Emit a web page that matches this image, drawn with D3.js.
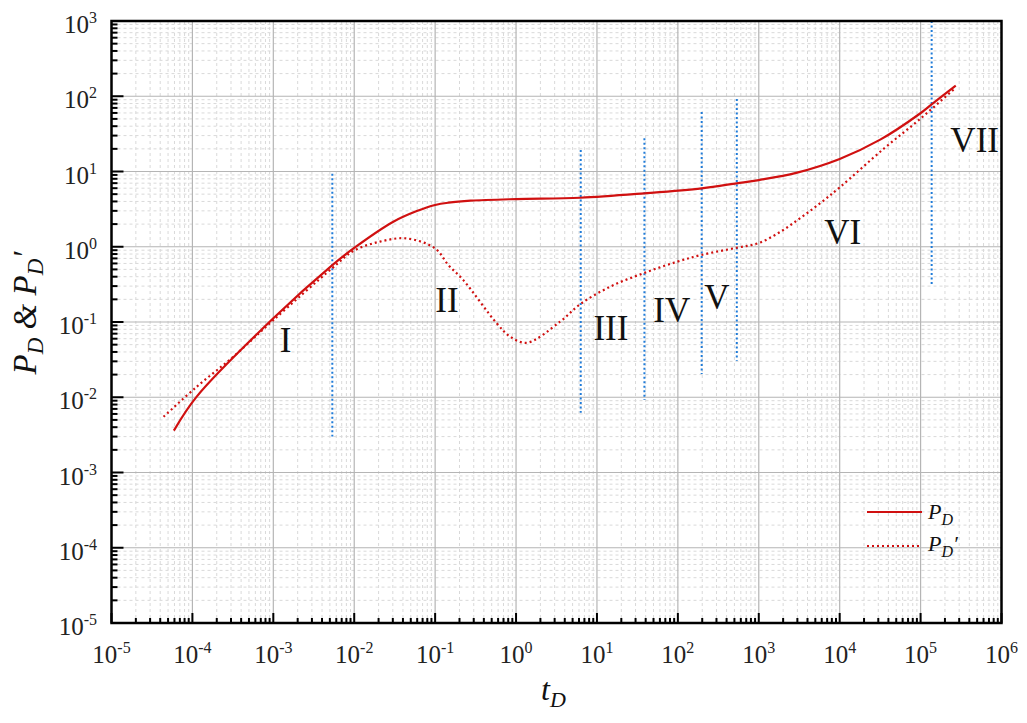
<!DOCTYPE html>
<html><head><meta charset="utf-8">
<script src="https://cdn.jsdelivr.net/npm/d3@7"></script>
<style>body{margin:0;background:#fff}svg{display:block}</style>
</head><body>
<svg id="c" width="1027" height="723"></svg>
<script>
// ---- data ----
const tPD = [5.9e-5, 1.13e-4, 1e-3, 5.36e-3, 9.8e-3, 0.0304, 0.0593, 0.1, 0.146, 0.275, 1, 6.2, 38.6, 197, 535, 1000, 2900, 1e4, 3.17e4, 9.86e4, 1.37e5, 2.72e5];
const PD  = [3.6e-3, 0.0102, 0.112, 0.57, 0.95, 2.15, 2.98, 3.59, 3.85, 4.09, 4.3, 4.48, 5.13, 5.98, 6.97, 7.7, 9.6, 14.7, 26.5, 59, 78, 138];
const tdPD = [4.4e-5, 1.13e-4, 3.2e-4, 1e-3, 5.36e-3, 9.8e-3, 0.0208, 0.0446, 0.1, 0.146, 0.223, 0.577, 0.843, 1.36, 3.5, 6.18, 14.5, 38.6, 96.8, 197, 535, 1000, 1830, 3270, 5780, 1.01e4, 3.47e4, 9.86e4, 2.67e5];
const dPD  = [5.5e-3, 0.0138, 0.0346, 0.106, 0.52, 0.88, 1.17, 1.29, 0.95, 0.57, 0.36, 0.096, 0.064, 0.053, 0.101, 0.172, 0.294, 0.45, 0.63, 0.78, 0.97, 1.12, 1.57, 2.41, 3.81, 6.2, 19.9, 49.9, 128];
const vlineT      = [5.36e-3, 6.3, 38.6, 197, 535, 1.37e5];
const vlineTop    = [9.3, 19.3, 27.6, 61.8, 92, 1000];
const vlineBottom = [3.0e-3, 6.2e-3, 9.2e-3, 0.0204, 0.0306, 0.32];
const regionText = ["I", "II", "III", "IV", "V", "VI", "VII"];
const regionT    = [1.42e-3, 0.140, 14.9, 84, 303, 1.09e4, 4.66e5];
const regionP    = [0.0577, 0.196, 0.083, 0.144, 0.217, 1.58, 26.2];
const xExp = [-5, -4, -3, -2, -1, 0, 1, 2, 3, 4, 5, 6];
const yExp = [-5, -4, -3, -2, -1, 0, 1, 2, 3];

// ---- layout ----
const svg = d3.select("#c");
const L = 111.5, R = 1001.5, T = 21, B = 623;
const x = d3.scaleLog().domain([1e-5, 1e6]).range([L, R]);
const y = d3.scaleLog().domain([1e-5, 1e3]).range([B, T]);
const serif = "'Liberation Serif','DejaVu Serif',serif";

const minorX = [], minorY = [];
xExp.slice(0, -1).forEach(e => { for (let k = 2; k <= 9; k++) minorX.push(k * Math.pow(10, e)); });
yExp.slice(0, -1).forEach(e => { for (let k = 2; k <= 9; k++) minorY.push(k * Math.pow(10, e)); });
const majX = xExp.map(e => Math.pow(10, e)), majY = yExp.map(e => Math.pow(10, e));

// grid
const g = svg.append("g");
g.selectAll(".mx").data(minorX).join("line").attr("x1", d => x(d)).attr("x2", d => x(d)).attr("y1", T).attr("y2", B)
  .attr("stroke", "#d9d9d9").attr("stroke-width", 1).attr("stroke-dasharray", "3,3");
g.selectAll(".my").data(minorY).join("line").attr("y1", d => y(d)).attr("y2", d => y(d)).attr("x1", L).attr("x2", R)
  .attr("stroke", "#d9d9d9").attr("stroke-width", 1).attr("stroke-dasharray", "3,3");
g.selectAll(".Mx").data(majX).join("line").attr("x1", d => x(d)).attr("x2", d => x(d)).attr("y1", T).attr("y2", B)
  .attr("stroke", "#b5b5b5").attr("stroke-width", 1.2);
g.selectAll(".My").data(majY).join("line").attr("y1", d => y(d)).attr("y2", d => y(d)).attr("x1", L).attr("x2", R)
  .attr("stroke", "#b5b5b5").attr("stroke-width", 1.2);

// blue vertical dotted lines
svg.append("g").selectAll("line").data(vlineT).join("line")
  .attr("x1", d => x(d)).attr("x2", d => x(d))
  .attr("y1", (d, i) => y(vlineTop[i])).attr("y2", (d, i) => y(vlineBottom[i]))
  .attr("stroke", "#1f7bd8").attr("stroke-width", 2).attr("stroke-dasharray", "2,2.5");

// curves
const line = d3.line().x(d => x(d[0])).y(d => y(d[1])).curve(d3.curveCatmullRom.alpha(0.5));
svg.append("path").attr("d", line(tPD.map((t, i) => [t, PD[i]])))
  .attr("fill", "none").attr("stroke", "#d01010").attr("stroke-width", 2.2);
svg.append("path").attr("d", line(tdPD.map((t, i) => [t, dPD[i]])))
  .attr("fill", "none").attr("stroke", "#d01010").attr("stroke-width", 2.2).attr("stroke-dasharray", "2,3");

// region labels
svg.append("g").selectAll("text").data(regionText).join("text")
  .attr("x", (d, i) => x(regionT[i])).attr("y", (d, i) => y(regionP[i])).attr("dy", "0.34em")
  .attr("text-anchor", "middle").attr("font-family", serif).attr("font-size", 35).attr("fill", "#111").text(d => d);

// frame
svg.append("rect").attr("x", L).attr("y", T).attr("width", R - L).attr("height", B - T)
  .attr("fill", "none").attr("stroke", "#000").attr("stroke-width", 2.5);

// ticks (inward)
const tk = svg.append("g").attr("stroke", "#000").attr("stroke-width", 2);
tk.selectAll(".tx").data(majX).join("line").attr("x1", d => x(d)).attr("x2", d => x(d)).attr("y1", B).attr("y2", B - 10);
tk.selectAll(".tmx").data(minorX).join("line").attr("x1", d => x(d)).attr("x2", d => x(d)).attr("y1", B).attr("y2", B - 5);
tk.selectAll(".ty").data(majY).join("line").attr("y1", d => y(d)).attr("y2", d => y(d)).attr("x1", L).attr("x2", L + 12);
tk.selectAll(".tmy").data(minorY).join("line").attr("y1", d => y(d)).attr("y2", d => y(d)).attr("x1", L).attr("x2", L + 6);

// tick labels
function pow10(sel) {
  sel.append("tspan").text("10");
  sel.append("tspan").attr("dy", -10).attr("font-size", 16).text(e => (e < 0 ? "-" : "") + Math.abs(e));
}
svg.append("g").selectAll("text").data(xExp).join("text")
  .attr("x", e => x(Math.pow(10, e))).attr("y", 663).attr("text-anchor", "middle")
  .attr("font-family", serif).attr("font-size", 25).attr("fill", "#222").call(pow10);
svg.append("g").selectAll("text").data(yExp).join("text")
  .attr("x", 97).attr("y", e => y(Math.pow(10, e)) + 12).attr("text-anchor", "end")
  .attr("font-family", serif).attr("font-size", 25).attr("fill", "#222").call(pow10);

// axis titles
const xt = svg.append("text").attr("x", 541).attr("y", 700).attr("font-family", serif)
  .attr("font-style", "italic").attr("font-size", 32).attr("fill", "#111");
xt.append("tspan").text("t");
xt.append("tspan").attr("dy", 7).attr("font-size", 22).text("D");

const yt = svg.append("text").attr("transform", "translate(36,313) rotate(-90)").attr("text-anchor", "middle")
  .attr("font-family", serif).attr("font-style", "italic").attr("font-size", 33).attr("fill", "#111");
yt.append("tspan").text("P");
yt.append("tspan").attr("dy", 7).attr("font-size", 23).text("D");
yt.append("tspan").attr("dy", -7).text(" & ");
yt.append("tspan").text("P");
yt.append("tspan").attr("dy", 7).attr("font-size", 23).text("D");
yt.append("tspan").attr("dy", -7).text("′");

// legend
const lg = svg.append("g");
lg.append("line").attr("x1", 867).attr("x2", 922).attr("y1", 512).attr("y2", 512)
  .attr("stroke", "#d01010").attr("stroke-width", 2.2);
lg.append("line").attr("x1", 867).attr("x2", 920).attr("y1", 546).attr("y2", 546)
  .attr("stroke", "#d01010").attr("stroke-width", 2.2).attr("stroke-dasharray", "2,3");
const l1 = lg.append("text").attr("x", 928).attr("y", 519).attr("font-family", serif).attr("font-style", "italic")
  .attr("font-size", 22).attr("fill", "#111");
l1.append("tspan").text("P"); l1.append("tspan").attr("dy", 6).attr("font-size", 16).text("D");
const l2 = lg.append("text").attr("x", 928).attr("y", 551).attr("font-family", serif).attr("font-style", "italic")
  .attr("font-size", 22).attr("fill", "#111");
l2.append("tspan").text("P"); l2.append("tspan").attr("dy", 6).attr("font-size", 16).text("D");
l2.append("tspan").attr("dy", -6).text("′");
</script>
</body></html>
